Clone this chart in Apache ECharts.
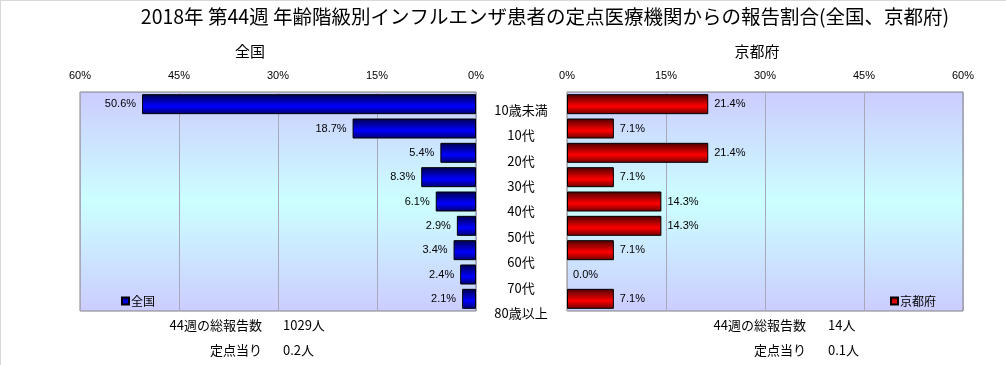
<!DOCTYPE html>
<html><head><meta charset="utf-8">
<script src="https://cdn.jsdelivr.net/npm/echarts@6/dist/echarts.min.js"></script>
<style>html,body{margin:0;padding:0;background:#fff}#c{width:1006px;height:365px}</style>
</head><body><div id="c"></div>
<script>
const categories = ['10歳未満','10代','20代','30代','40代','50代','60代','70代','80歳以上'];
const nationalValues = [50.6,18.7,5.4,8.3,6.1,2.9,3.4,2.4,2.1];
const kyotoValues = [21.4,7.1,21.4,7.1,14.3,14.3,7.1,0.0,7.1];
const axisTicks = [0,15,30,45,60];
const titleText = '2018年 第44週 年齢階級別インフルエンザ患者の定点医療機関からの報告割合(全国、京都府)';
const nationalTotal = ['44週の総報告数','1029人'];
const nationalPerPoint = ['定点当り','0.2人'];
const kyotoTotal = ['44週の総報告数','14人'];
const kyotoPerPoint = ['定点当り','0.1人'];

const FONT = '"Noto Sans CJK JP", sans-serif';
const NUMFONT = '"Liberation Sans", Arial, sans-serif';
const bgGrad = {type:'linear',x:0,y:0,x2:0,y2:1,colorStops:[
  {offset:0,color:'#ccccff'},{offset:0.5,color:'#ccffff'},{offset:1,color:'#ccccff'}]};
const blueGrad = {type:'linear',x:0,y:0,x2:0,y2:1,colorStops:[
  {offset:0,color:'#00004a'},{offset:0.6,color:'#0000ff'},{offset:1,color:'#00006a'}]};
const redGrad = {type:'linear',x:0,y:0,x2:0,y2:1,colorStops:[
  {offset:0,color:'#4a0000'},{offset:0.6,color:'#ff0000'},{offset:1,color:'#6a0000'}]};

const chart = echarts.init(document.getElementById('c'));
const valAxis = (gi, inverse) => ({
  type:'value', gridIndex:gi, min:axisTicks[0], max:axisTicks[axisTicks.length-1], interval:15,
  inverse:inverse, position:'top',
  axisLine:{show:false}, axisTick:{show:false},
  axisLabel:{formatter:'{value}%', fontSize:11, color:'#000', fontFamily:NUMFONT, margin:11},
  splitLine:{show:true, lineStyle:{color:'#a8a8b8', width:1}}
});
const catAxis = (gi) => ({
  type:'category', gridIndex:gi, data:categories, inverse:true,
  axisLine:{show:false}, axisTick:{show:false}, axisLabel:{show:false}, splitLine:{show:false}
});
const fmt = p => p.value.toFixed(1) + '%';
const toItems = arr => arr.map(v => v === 0 ? {value:v, itemStyle:{borderWidth:0, color:'rgba(0,0,0,0)'}} : {value:v});

chart.setOption({
  animation:false,
  backgroundColor:'#fff',
  title:[
    {text:titleText, left:540, top:2, textAlign:'center', textStyle:{fontSize:19.5, fontWeight:'normal', fontFamily:FONT, color:'#000'}},
    {text:'全国', left:245, top:39, textAlign:'center', textStyle:{fontSize:15, fontWeight:'normal', fontFamily:FONT, color:'#000'}},
    {text:'京都府', left:752, top:39, textAlign:'center', textStyle:{fontSize:15, fontWeight:'normal', fontFamily:FONT, color:'#000'}}
  ],
  legend:[
    {data:['全国'], left:116, top:290, itemWidth:7, itemHeight:7, itemGap:2, icon:'rect',
     textStyle:{fontSize:12, fontFamily:FONT, color:'#000', padding:[0,0,0,-3]}},
    {data:['京都府'], left:885, top:290, itemWidth:7, itemHeight:7, itemGap:2, icon:'rect',
     textStyle:{fontSize:12, fontFamily:FONT, color:'#000', padding:[0,0,0,-3]}}
  ],
  grid:[
    {left:80, top:92, width:396, height:219, show:true, backgroundColor:bgGrad, borderColor:'#808080', borderWidth:1},
    {left:567, top:92, width:396, height:219, show:true, backgroundColor:bgGrad, borderColor:'#808080', borderWidth:1},
    {left:521, top:97, width:1, height:229, show:false}
  ],
  xAxis:[valAxis(0,true), valAxis(1,false),
    {type:'value', gridIndex:2, show:false}],
  yAxis:[catAxis(0), catAxis(1),
    {type:'category', gridIndex:2, data:categories, inverse:true,
     axisLine:{show:false}, axisTick:{show:false}, splitLine:{show:false},
     axisLabel:{show:true, align:'center', margin:0, fontSize:13, fontFamily:FONT, color:'#000'}}],
  series:[
    {name:'全国', type:'bar', xAxisIndex:0, yAxisIndex:0, data:toItems(nationalValues), barWidth:20,
     itemStyle:{color:blueGrad, borderColor:'#000', borderWidth:1},
     label:{show:true, position:'left', distance:6, formatter:fmt, fontSize:11, fontFamily:NUMFONT, color:'#000'}},
    {name:'京都府', type:'bar', xAxisIndex:1, yAxisIndex:1, data:toItems(kyotoValues), barWidth:20,
     itemStyle:{color:redGrad, borderColor:'#000', borderWidth:1},
     label:{show:true, position:'right', distance:6, formatter:fmt, fontSize:11, fontFamily:NUMFONT, color:'#000'}}
  ],
  graphic:[
    {type:'line', shape:{x1:0,y1:0.5,x2:1006,y2:0.5}, style:{stroke:'#d8d8d8', lineWidth:1}},
    {type:'line', shape:{x1:0.5,y1:0,x2:0.5,y2:365}, style:{stroke:'#d8d8d8', lineWidth:1}},
    {type:'text', right:1006-262, top:319, style:{text:nationalTotal[0], font:'13px '+FONT, fill:'#000', textAlign:'right'}},
    {type:'text', left:283, top:319, style:{text:nationalTotal[1], font:'13px '+FONT, fill:'#000'}},
    {type:'text', right:1006-262, top:344, style:{text:nationalPerPoint[0], font:'13px '+FONT, fill:'#000', textAlign:'right'}},
    {type:'text', left:283, top:344, style:{text:nationalPerPoint[1], font:'13px '+FONT, fill:'#000'}},
    {type:'text', right:1006-806, top:319, style:{text:kyotoTotal[0], font:'13px '+FONT, fill:'#000', textAlign:'right'}},
    {type:'text', left:828, top:319, style:{text:kyotoTotal[1], font:'13px '+FONT, fill:'#000'}},
    {type:'text', right:1006-806, top:344, style:{text:kyotoPerPoint[0], font:'13px '+FONT, fill:'#000', textAlign:'right'}},
    {type:'text', left:828, top:344, style:{text:kyotoPerPoint[1], font:'13px '+FONT, fill:'#000'}}
  ]
});
</script></body></html>
